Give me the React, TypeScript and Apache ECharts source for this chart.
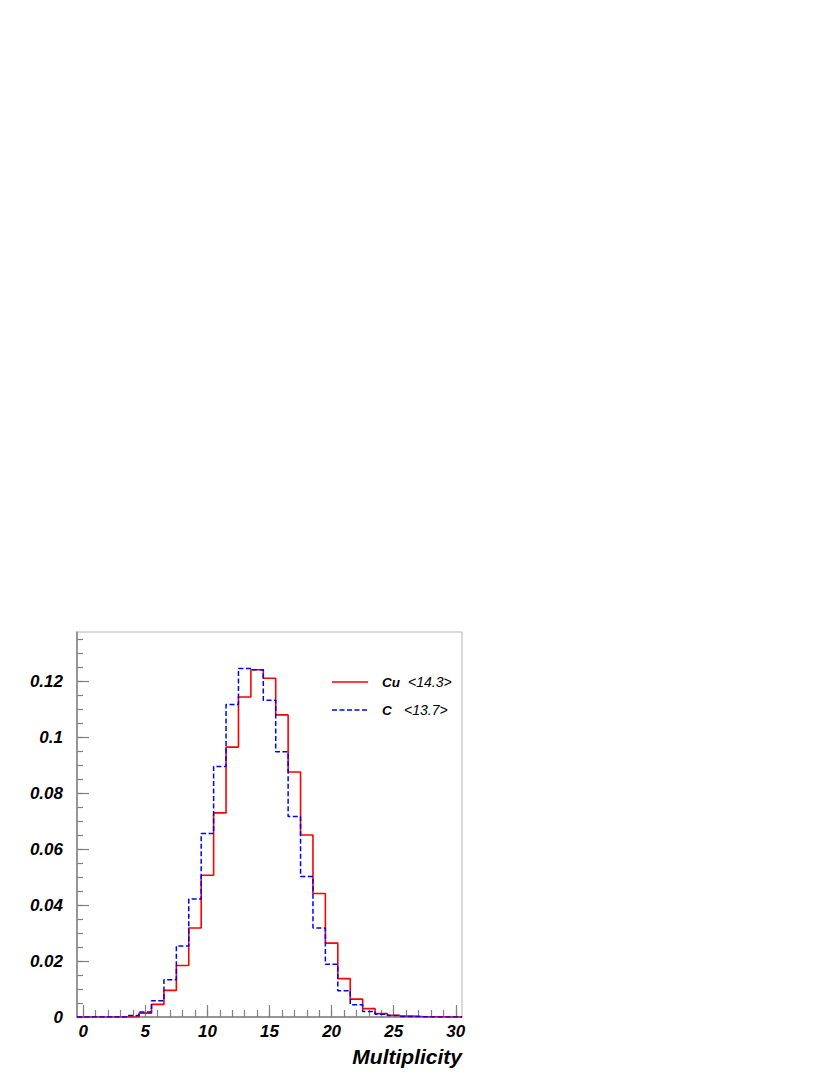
import React, { useEffect, useRef } from "react";
import * as echarts from "echarts";

// Bin centres 0..30 (bin width 1)
const binCenters = [0,1,2,3,4,5,6,7,8,9,10,11,12,13,14,15,16,17,18,19,20,21,22,23,24,25,26,27,28,29,30];
const cuValues = [0,0,0,0,0.0001,0.0014,0.0045,0.0095,0.0184,0.0318,0.0506,0.0729,0.0964,0.1143,0.1240,0.1210,0.1079,0.0875,0.0650,0.0441,0.0264,0.0137,0.0064,0.0030,0.0012,0.0006,0.0003,0.0001,0.0001,0,0];
const cValues = [0,0,0,0,0.0005,0.0018,0.0058,0.0133,0.0254,0.0421,0.0655,0.0895,0.1116,0.1245,0.1240,0.1131,0.0947,0.0716,0.0502,0.0318,0.0188,0.0094,0.0044,0.0020,0.0010,0.0005,0.0002,0.0001,0,0,0];
const seriesNames = ["Cu", "C"];
const seriesMeans = ["<14.3>", "<13.7>"];
const seriesColors = ["#ff0000", "#0000ff"];
const xMajorTicks = [0, 5, 10, 15, 20, 25, 30];
const yMajorTicks = [0, 0.02, 0.04, 0.06, 0.08, 0.1, 0.12];
const xTitle = "Multiplicity";

function histPoints(values: number[]) {
  const pts: number[][] = [];
  values.forEach((v, i) => {
    pts.push([binCenters[i] - 0.5, v]);
    pts.push([binCenters[i] + 0.5, v]);
  });
  return pts;
}

const xMinorTicks = binCenters.slice();
const yMinorTicks: number[] = [];
for (let i = 0; i <= 27; i++) yMinorTicks.push(Math.round(i * 5) / 1000);

const FONT = "'Liberation Sans', Arial, Helvetica, sans-serif";
const AXIS_COLOR = "#808080";
const BLUE_DASH = [5, 2.5];

export default function App() {
  const ref = useRef<HTMLDivElement>(null);
  useEffect(() => {
    if (!ref.current) return;
    const chart = echarts.init(ref.current, null, { renderer: "svg" });
    const tickLabelStyle = {
      color: "#000",
      fontFamily: FONT,
      fontSize: 17,
      fontWeight: "bold" as const,
      fontStyle: "italic" as const,
    };
    const legendRows = [682, 710];
    const meanX = [408, 404];
    const legendGraphics: any[] = [];
    seriesNames.forEach((name, i) => {
      legendGraphics.push({
        type: "line",
        shape: { x1: 332, y1: legendRows[i], x2: 368, y2: legendRows[i] },
        style: {
          stroke: seriesColors[i],
          lineWidth: 1.5,
          lineDash: i === 1 ? BLUE_DASH : null,
        },
      });
      legendGraphics.push({
        type: "text",
        style: {
          x: 382,
          y: legendRows[i],
          text: name,
          textVerticalAlign: "middle",
          fontFamily: FONT,
          fontSize: 13.5,
          fontWeight: "bold",
          fontStyle: "italic",
          fill: "#000",
        },
      });
      legendGraphics.push({
        type: "text",
        style: {
          x: meanX[i],
          y: legendRows[i],
          text: seriesMeans[i],
          textVerticalAlign: "middle",
          fontFamily: FONT,
          fontSize: 14,
          fontStyle: "italic",
          fill: "#000",
        },
      });
    });
    const option: any = {
      animation: false,
      backgroundColor: "#fff",
      grid: {
        left: 77,
        top: 632,
        right: 368,
        bottom: 58,
        show: true,
        borderColor: "#b4b4b4",
        borderWidth: 1,
        containLabel: false,
      },
      xAxis: [
        {
          type: "value",
          min: -0.5,
          max: 30.5,
          position: "bottom",
          axisLine: { show: true, onZero: false, lineStyle: { color: AXIS_COLOR, width: 1.5 } },
          axisTick: {
            show: true,
            inside: true,
            length: 12,
            customValues: xMajorTicks,
            lineStyle: { color: AXIS_COLOR, width: 1.2 },
          },
          axisLabel: {
            ...tickLabelStyle,
            customValues: xMajorTicks,
            margin: 6,
            formatter: (v: number) => String(v),
          },
          splitLine: { show: false },
        },
        {
          type: "value",
          min: -0.5,
          max: 30.5,
          position: "bottom",
          axisLine: { show: false, onZero: false },
          axisTick: {
            show: true,
            inside: true,
            length: 7,
            customValues: xMinorTicks,
            lineStyle: { color: AXIS_COLOR, width: 1.2 },
          },
          axisLabel: { show: false },
          splitLine: { show: false },
        },
      ],
      yAxis: [
        {
          type: "value",
          min: 0,
          max: 0.1375,
          position: "left",
          axisLine: { show: true, onZero: false, lineStyle: { color: AXIS_COLOR, width: 1.5 } },
          axisTick: {
            show: true,
            inside: true,
            length: 12,
            customValues: yMajorTicks,
            lineStyle: { color: AXIS_COLOR, width: 1.2 },
          },
          axisLabel: {
            ...tickLabelStyle,
            customValues: yMajorTicks,
            margin: 14,
            formatter: (v: number) => String(v),
          },
          splitLine: { show: false },
        },
        {
          type: "value",
          min: 0,
          max: 0.1375,
          position: "left",
          axisLine: { show: false, onZero: false },
          axisTick: {
            show: true,
            inside: true,
            length: 6,
            customValues: yMinorTicks,
            lineStyle: { color: AXIS_COLOR, width: 1.2 },
          },
          axisLabel: { show: false },
          splitLine: { show: false },
        },
      ],
      graphic: [
        {
          type: "text",
          style: {
            x: 462,
            y: 1056,
            text: xTitle,
            textAlign: "right",
            textVerticalAlign: "middle",
            fontFamily: FONT,
            fontSize: 21,
            fontWeight: "bold",
            fontStyle: "italic",
            fill: "#000",
          },
        },
        ...legendGraphics,
      ],
      series: [
        {
          name: seriesNames[0],
          type: "line",
          xAxisIndex: 0,
          yAxisIndex: 0,
          data: histPoints(cuValues),
          symbol: "none",
          showSymbol: false,
          color: seriesColors[0],
          lineStyle: { color: seriesColors[0], width: 1.6 },
          z: 3,
        },
        {
          name: seriesNames[1],
          type: "line",
          xAxisIndex: 0,
          yAxisIndex: 0,
          data: histPoints(cValues),
          symbol: "none",
          showSymbol: false,
          color: seriesColors[1],
          lineStyle: { color: seriesColors[1], width: 1.5, type: BLUE_DASH },
          z: 4,
        },
      ],
    };
    chart.setOption(option);
    return () => chart.dispose();
  }, []);
  return (
    <div
      ref={ref}
      style={{ position: "fixed", left: 0, top: 0, width: 830, height: 1075, background: "#fff" }}
    />
  );
}
